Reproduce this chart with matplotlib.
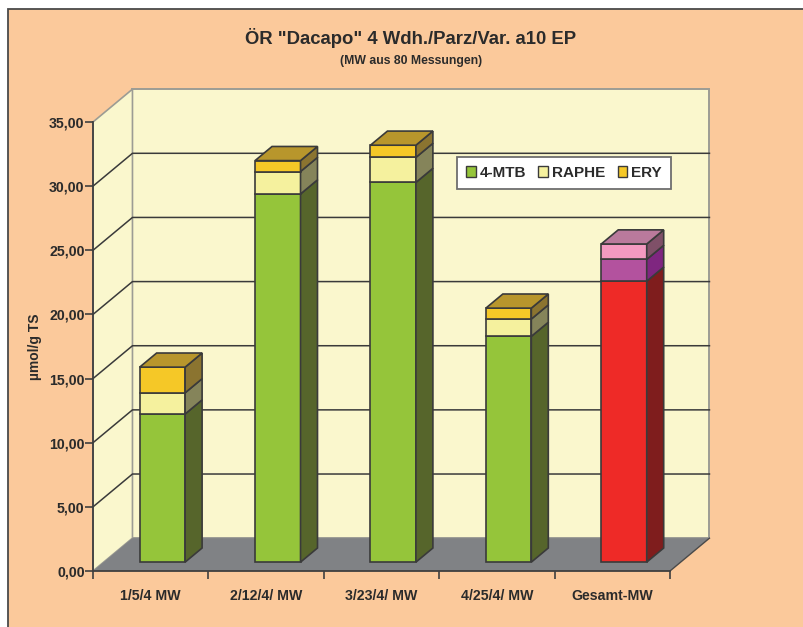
import matplotlib
matplotlib.use("Agg")
import matplotlib.pyplot as plt
from matplotlib.patches import Polygon, Patch, Rectangle

plt.rcParams['font.family'] = ['Liberation Sans', 'DejaVu Sans']
plt.rcParams['font.weight'] = 'bold'

# Values in umol/g TS
categories = ['1/5/4 MW', '2/12/4/ MW', '3/23/4/ MW', '4/25/4/ MW', 'Gesamt-MW']
mtb = [11.55, 28.7, 29.6, 17.6, 21.9]
raphe = [1.65, 1.75, 1.95, 1.35, 1.7]
ery = [2.0, 0.85, 0.95, 0.85, 1.2]
y_ticks = [0, 5, 10, 15, 20, 25, 30, 35]
series_names = ['4-MTB', 'RAPHE', 'ERY']

W, H = 804, 627
TEXT = '#2b2b2b'
EDGE = '#3a3a3a'
WALL = '#faf7cd'

# (front, side) colours for each stack segment
normal_cols = [('#95c53a', '#56652b'), ('#f5f19e', '#85845a'), ('#f5c827', '#8b7430')]
total_cols = [('#ee2a27', '#7f1d1d'), ('#b3529e', '#7f2680'), ('#f49ac1', '#7f5068')]
normal_top = '#b8962c'
total_top = '#ba7a9c'

# 3D look: how far the back wall sits from the front plane, in data units
DEPTH_X = 0.342
DEPTH_Y = 2.56
BAR_FRONT = 0.27
BAR_BACK = 0.70
BAR_W = 0.394
BAR_SHIFT = 0.009

fig = plt.figure(figsize=(W / 100, H / 100), dpi=100, facecolor='white')

# orange chart area, runs off the right and bottom edge
fig.add_artist(Rectangle((8 / W, -0.01), 1, 1 - 9 / H + 0.01, transform=fig.transFigure,
                         facecolor='#fbc99b', edgecolor='#4a4a4a', linewidth=1.3, zorder=-1))

ax = fig.add_axes([93 / W, (H - 571) / H, 577 / W, 449 / H])
ax.set_xlim(0, 5)
ax.set_ylim(0, 35)
ax.patch.set_visible(False)
ymax = y_ticks[-1]
n = len(categories)

# walls and floor
ax.add_patch(Polygon([(DEPTH_X, DEPTH_Y), (n + DEPTH_X, DEPTH_Y), (n + DEPTH_X, ymax + DEPTH_Y),
                      (DEPTH_X, ymax + DEPTH_Y)], facecolor=WALL, edgecolor='#9c9c94', lw=1.4,
                     clip_on=False, zorder=1))
ax.add_patch(Polygon([(0, 0), (DEPTH_X, DEPTH_Y), (DEPTH_X, ymax + DEPTH_Y), (0, ymax)],
                     facecolor=WALL, edgecolor='#9c9c94', lw=1.2, clip_on=False, zorder=1))
ax.add_patch(Polygon([(0, 0), (n, 0), (n + DEPTH_X, DEPTH_Y), (DEPTH_X, DEPTH_Y)],
                     facecolor='#808285', edgecolor='none', clip_on=False, zorder=2))
ax.plot([n, n + DEPTH_X], [0, DEPTH_Y], color='#4a4a4a', lw=1, clip_on=False, zorder=2)

# gridlines across the left wall and the back wall
for t in y_ticks[1:-1]:
    ax.plot([0, DEPTH_X, n + DEPTH_X], [t, t + DEPTH_Y, t + DEPTH_Y], color='#3a3a3a', lw=1.1,
            clip_on=False, zorder=2)

# stacked bars with side and top faces
for i in range(n):
    cols = total_cols if i == n - 1 else normal_cols
    top_col = total_top if i == n - 1 else normal_top
    x0 = i + 0.5 + BAR_FRONT * DEPTH_X - BAR_W / 2 + BAR_SHIFT
    x1 = x0 + BAR_W
    y_off = BAR_FRONT * DEPTH_Y
    dx = (BAR_BACK - BAR_FRONT) * DEPTH_X
    dy = (BAR_BACK - BAR_FRONT) * DEPTH_Y
    bottom = 0
    for vals, (front, side) in zip([mtb, raphe, ery], cols):
        v = vals[i]
        ax.bar(x0 + BAR_W / 2, v, BAR_W, bottom=bottom + y_off, color=front, edgecolor=EDGE,
               linewidth=1.2, clip_on=False, zorder=4)
        ax.add_patch(Polygon([(x1, bottom + y_off), (x1 + dx, bottom + y_off + dy),
                              (x1 + dx, bottom + v + y_off + dy), (x1, bottom + v + y_off)],
                             facecolor=side, edgecolor=EDGE, lw=1.2, clip_on=False, zorder=4))
        bottom += v
    ax.add_patch(Polygon([(x0, bottom + y_off), (x1, bottom + y_off),
                          (x1 + dx, bottom + y_off + dy), (x0 + dx, bottom + y_off + dy)],
                         facecolor=top_col, edgecolor=EDGE, lw=1.2, clip_on=False, zorder=4))

# axes
for s in ['top', 'right']:
    ax.spines[s].set_visible(False)
for s in ['left', 'bottom']:
    ax.spines[s].set_color('#3f3f3f')
    ax.spines[s].set_linewidth(1.3)
    ax.spines[s].set_zorder(3)
ax.set_yticks(y_ticks)
ax.set_yticklabels([('%.2f' % t).replace('.', ',') for t in y_ticks], fontsize=10.2, color=TEXT)
ax.set_xticks(range(n + 1))
ax.set_xticklabels([])
ax.set_xticks([i + 0.5 for i in range(n)], minor=True)
ax.set_xticklabels(categories, minor=True, fontsize=10.2, color=TEXT)
ax.tick_params(axis='x', which='minor', length=0, pad=13)
ax.tick_params(axis='both', which='major', length=6, width=1.2, color='#3f3f3f')
ax.tick_params(axis='y', pad=0)

ax.set_ylabel('µmol/g TS', fontsize=10, fontweight='bold', color=TEXT)
ax.yaxis.set_label_coords(-51 / 577, 0.499)

fig.text(411 / W, 1 - 38 / H, 'ÖR "Dacapo" 4 Wdh./Parz/Var. a10 EP', ha='center', va='center',
         fontsize=13.3, color=TEXT)
fig.text(411 / W, 1 - 61 / H, '(MW aus 80 Messungen)', ha='center', va='center',
         fontsize=8.8, color=TEXT)

handles = [Patch(facecolor=c[0], edgecolor=EDGE, lw=1) for c in normal_cols]
leg = ax.legend(handles, series_names, ncol=3, loc='upper left',
                bbox_to_anchor=(457 / W, 1 - 157 / H), bbox_transform=fig.transFigure,
                fancybox=False, framealpha=1, facecolor='white', edgecolor='#6e6e6e',
                fontsize=11, handlelength=0.65, handleheight=0.7, handletextpad=0.22,
                columnspacing=0.82, borderpad=0.6, borderaxespad=0)
leg.get_frame().set_linewidth(1.3)
leg.set_zorder(6)
for t in leg.get_texts():
    t.set_color(TEXT)

fig.savefig('out.png', dpi=100, facecolor=fig.get_facecolor())
